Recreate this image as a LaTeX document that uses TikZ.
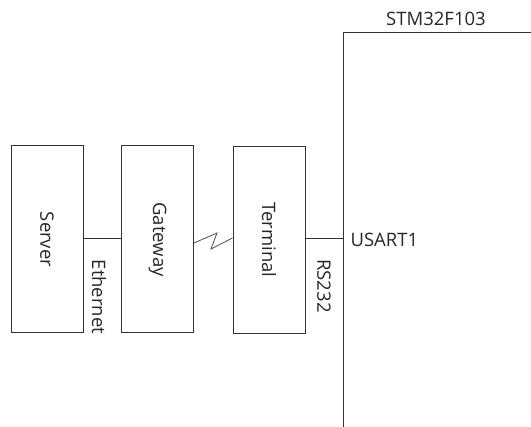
\documentclass[tikz,border=0pt]{standalone}
\usepackage{fontspec}
\setmainfont{Open Sans}
\begin{document}
\begin{tikzpicture}[x=1pt,y=-1pt,
  blk/.style={draw=black!80,line width=1pt,minimum width=72pt,minimum height=187pt,inner sep=0pt},
  lbl/.style={font=\fontsize{18.5}{21}\selectfont,text=black!85},
  ln/.style={draw=black!80,line width=1pt}]
\useasboundingbox (0,0) rectangle (531,427);
\node[blk] (server) at (47,239.5) {};
\node[blk] (gateway) at (157.5,239.5) {};
\node[blk] (terminal) at (269,240) {};
\node[lbl,rotate=-90] at (server.center) {Server};
\node[lbl,rotate=-90] at (gateway.center) {Gateway};
\node[lbl,rotate=-90] at (terminal.center) {Terminal};
\coordinate (stmtl) at (343,33);
\coordinate (stmtr) at (531,33);
\coordinate (stmbl) at (343,427);
\coordinate (usart) at (343,239);
\draw[ln] (stmtr) -- (stmtl) -- (stmbl);
\node[lbl] (stmlbl) at (436,19) {STM32F103};
\draw[ln] (server.east |- 0,239) -- (gateway.west |- 0,239);
\draw[ln] (terminal.east |- 0,239) -- (usart);
\node[lbl,anchor=west] (usartlbl) at (347,240) {USART1};
\node[lbl,rotate=-90] (eth) at (99,297) {Ethernet};
\node[lbl,rotate=-90] (rs) at (324,286) {RS232};
\coordinate (z1) at (217,233);
\coordinate (z2) at (211,249);
\draw[draw=black!70,line width=0.8pt] (gateway.east |- 0,243) -- (z1) -- (z2) -- (terminal.west |- 0,238);
\end{tikzpicture}
\end{document}
